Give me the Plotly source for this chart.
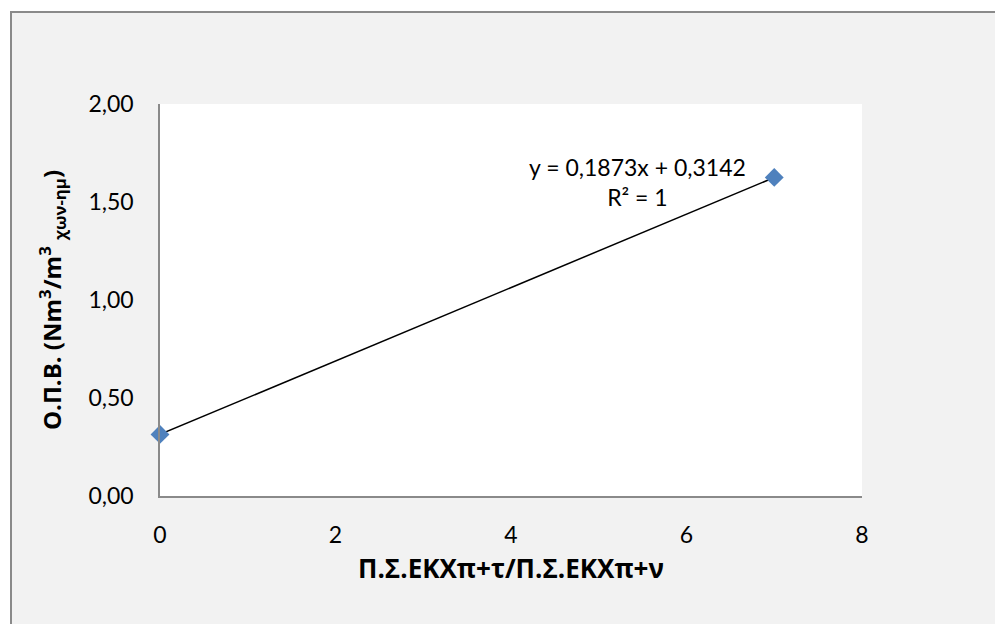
import numpy as np
import plotly.graph_objects as go

# Measured points
x_vals = [0, 7]
y_vals = [0.3142, 1.6253]

# Axis ticks
x_ticks = [0, 2, 4, 6, 8]
y_ticks = [0.0, 0.5, 1.0, 1.5, 2.0]

x_title = "<b>Π.Σ.ΕΚΧπ+τ/Π.Σ.ΕΚΧπ+ν</b>"
y_title = "<b>Ο.Π.Β. (Nm<sup>3</sup>/m<sup>3</sup> <sub>χων-ημ</sub>)</b>"

# Linear trendline through the points
slope, intercept = np.polyfit(x_vals, y_vals, 1)
fit_x = [min(x_vals), max(x_vals)]
fit_y = [slope * v + intercept for v in fit_x]


def comma(v, nd=4):
    return f"{v:.{nd}f}".replace(".", ",")


eq_text = f"y = {comma(slope)}x + {comma(intercept)}<br>R² = 1"

NUM_FONT = "Lato, Open Sans, sans-serif"
TITLE_FONT = "Open Sans, Noto Sans, sans-serif"

fig = go.Figure()
fig.add_trace(go.Scatter(
    x=fit_x, y=fit_y, mode="lines",
    line=dict(color="black", width=1.5),
    hoverinfo="skip", showlegend=False,
))
fig.add_trace(go.Scatter(
    x=x_vals, y=y_vals, mode="markers",
    marker=dict(symbol="diamond", size=14.5, color="#4f81bd",
                line=dict(width=0)),
    showlegend=False, cliponaxis=False,
))

# Plot-area geometry in pixels (for framing shapes in paper units)
L, R, T, B = 160, 862, 104, 496
W, H = R - L, B - T


def px(xp):
    return (xp - L) / W


def py(yp):
    return (B - yp) / H


shapes = [
    # white page margin strips outside the chart frame
    dict(type="rect", xref="paper", yref="paper",
         x0=px(-20), x1=px(10), y0=py(700), y1=py(-20),
         fillcolor="white", line=dict(width=0)),
    dict(type="rect", xref="paper", yref="paper",
         x0=px(-20), x1=px(1100), y0=py(11), y1=py(-20),
         fillcolor="white", line=dict(width=0)),
    # chart frame
    dict(type="rect", xref="paper", yref="paper",
         x0=px(11), x1=px(1100), y0=py(700), y1=py(12),
         fillcolor="rgba(0,0,0,0)", line=dict(color="#8a8a8a", width=2)),
]

fig.add_annotation(
    x=5.44, y=1.60, xref="x", yref="y", text=eq_text, showarrow=False,
    font=dict(family=NUM_FONT, size=23, color="black"), align="center",
)

fig.update_layout(
    width=995, height=624,
    margin=dict(l=L, r=995 - R, t=T, b=624 - B),
    paper_bgcolor="#f2f2f2", plot_bgcolor="white",
    separators=",.",
    shapes=shapes,
    font=dict(family=NUM_FONT, size=23, color="black"),
)
fig.update_xaxes(
    range=[0, 8], tickvals=x_ticks, showgrid=False, zeroline=False,
    showline=True, linecolor="#8a8a8a", linewidth=1.5, ticks="",
    ticklabelstandoff=18,
    tickfont=dict(family=NUM_FONT, size=23, color="black"),
    title=dict(text=x_title, font=dict(family=TITLE_FONT, size=26, color="black"),
               standoff=12),
)
fig.update_yaxes(
    range=[0, 2], tickvals=y_ticks, tickformat=".2f", showgrid=False,
    zeroline=False, showline=True, linecolor="#8a8a8a", linewidth=1.5,
    ticks="", ticklabelstandoff=20,
    tickfont=dict(family=NUM_FONT, size=23, color="black"),
    title=dict(text=y_title, font=dict(family=TITLE_FONT, size=24, color="black"),
               standoff=20),
)

fig.write_html("out.html")
